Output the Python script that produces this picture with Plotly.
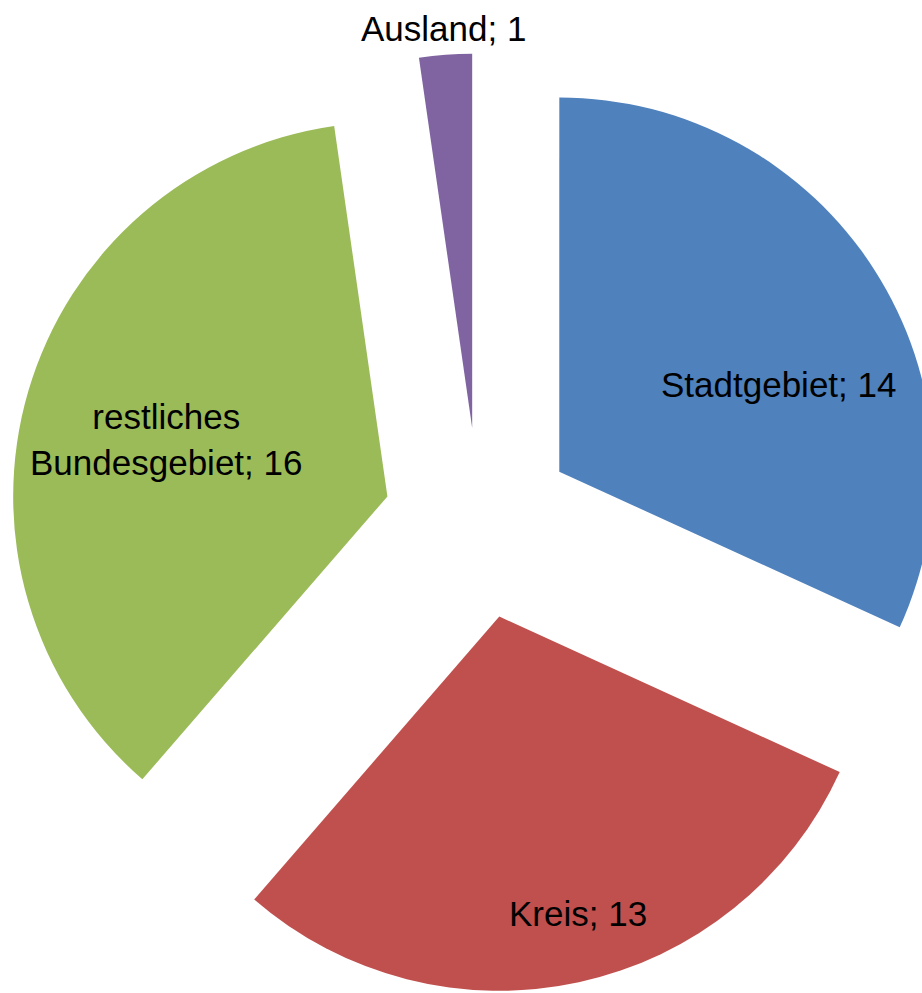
import math
import plotly.graph_objects as go

labels = ["Stadtgebiet", "Kreis", "restliches<br>Bundesgebiet", "Ausland"]
values = [14, 13, 16, 1]
colors = ["#4F81BD", "#C0504D", "#9BBB59", "#8064A2"]

# style / layout parameters
W, H = 958, 993
dom_x = [0.0, 1.0]
dom_y = [0.0, 0.946]
pull = 0.255
label_radius = [0.63, 0.82, 0.61, 1.07]     # fraction of radius from pulled slice centre
label_angle_shift = [11.0, -2.5, -2.0, 0.0]  # degrees
font = dict(family="Liberation Sans, Arial, sans-serif", size=35, color="black")

fig = go.Figure(go.Pie(
    labels=labels,
    values=values,
    sort=False,
    direction="clockwise",
    rotation=0,
    pull=[pull] * len(values),
    marker=dict(colors=colors, line=dict(width=0)),
    textinfo="none",
    showlegend=False,
    hoverinfo="label+value",
    domain=dict(x=dom_x, y=dom_y),
))

# pie geometry (same rules as plotly.js) to place the labels
cx = W * (dom_x[0] + dom_x[1]) / 2
cy = H * (2 - dom_y[0] - dom_y[1]) / 2
r = min(W * (dom_x[1] - dom_x[0]) / 2, H * (dom_y[1] - dom_y[0]) / 2) / (1 + pull)
total = sum(values)
cum = 0
annotations = []
for lab, v, lr, sh in zip(labels, values, label_radius, label_angle_shift):
    mid = (cum + v / 2) / total * 2 * math.pi
    cum += v
    pcx = cx + pull * r * math.sin(mid)
    pcy = cy - pull * r * math.cos(mid)
    a = mid + math.radians(sh)
    px = pcx + lr * r * math.sin(a)
    py = pcy - lr * r * math.cos(a)
    annotations.append(dict(
        x=px / W, y=1 - py / H, xref="paper", yref="paper",
        text=f"{lab}; {v}", showarrow=False, font=font,
        xanchor="center", yanchor="middle", align="center",
    ))

fig.update_layout(
    width=W,
    height=H,
    margin=dict(l=0, r=0, t=0, b=0, autoexpand=False),
    paper_bgcolor="white",
    plot_bgcolor="white",
    annotations=annotations,
)

fig.write_html(
    "out.html",
    config={"displayModeBar": False},
    post_script="document.body.style.margin='0';document.body.style.overflow='hidden';",
)
